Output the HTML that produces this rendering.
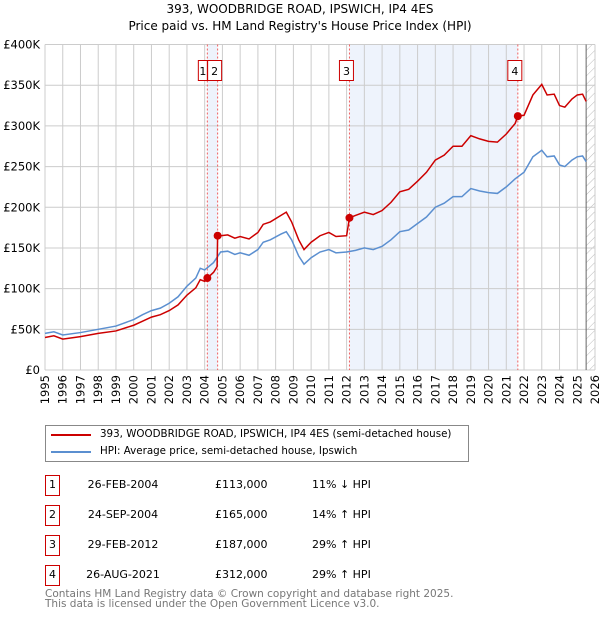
<!DOCTYPE html>
<html><head><meta charset="utf-8"><style>
body{margin:0;background:#fff;font-family:"DejaVu Sans","Liberation Sans",sans-serif;}
#wrap{position:relative;width:600px;height:620px;overflow:hidden}
.t{position:absolute;font-size:11px;color:#000;white-space:nowrap}
</style></head><body><div id="wrap">
<svg id="chart" width="600" height="415" style="position:absolute;left:0;top:0;font-family:'DejaVu Sans',sans-serif"></svg>
<div style="position:absolute;left:45px;top:425px;width:422px;height:35px;border:1px solid #888">
<div style="position:absolute;left:5px;top:8px;width:40px;height:2px;background:#cc0000"></div>
<div class="t" style="left:54px;top:2px;font-size:10.3px">393, WOODBRIDGE ROAD, IPSWICH, IP4 4ES (semi-detached house)</div>
<div style="position:absolute;left:5px;top:25px;width:40px;height:2px;background:#5b8fd0"></div>
<div class="t" style="left:54px;top:19px;font-size:10.3px">HPI: Average price, semi-detached house, Ipswich</div>
</div>
<div id="tbl"></div>
<div class="t" style="left:45px;top:589px;color:#777;font-size:10.5px;line-height:10px">Contains HM Land Registry data © Crown copyright and database right 2025.<br>This data is licensed under the Open Government Licence v3.0.</div>
</div>
<script>
const hpiYears=[1995,1995.5,1996,1997,1998,1999,2000,2000.5,2001,2001.5,2002,2002.5,2003,2003.5,2003.75,2004,2004.5,2004.9,2005.3,2005.7,2006,2006.5,2007,2007.3,2007.7,2008.3,2008.6,2008.9,2009.3,2009.6,2010,2010.5,2011,2011.4,2012,2012.5,2013,2013.5,2014,2014.5,2015,2015.5,2016,2016.5,2017,2017.5,2018,2018.5,2019,2019.5,2020,2020.5,2021,2021.5,2022,2022.5,2023,2023.3,2023.7,2024,2024.3,2024.7,2025,2025.3,2025.5];
const hpiValues=[45,47,43,46,50,54,62,68,73,76,82,90,103,113,125,123,132,145,146,142,144,141,148,157,160,167,170,160,140,130,138,145,148,144,145,147,150,148,152,160,170,172,180,188,200,205,213,213,223,220,218,217,225,235,243,262,270,262,263,252,250,258,262,263,256];
const priceYears=[1995,1995.5,1996,1997,1998,1999,2000,2000.5,2001,2001.5,2002,2002.5,2003,2003.5,2003.75,2004,2004.15,2004.5,2004.7,2004.73,2004.9,2005.3,2005.7,2006,2006.5,2007,2007.3,2007.7,2008.3,2008.6,2008.9,2009.3,2009.6,2010,2010.5,2011,2011.4,2012,2012.16,2012.5,2013,2013.5,2014,2014.5,2015,2015.5,2016,2016.5,2017,2017.5,2018,2018.5,2019,2019.5,2020,2020.5,2021,2021.5,2021.65,2022,2022.5,2023,2023.3,2023.7,2024,2024.3,2024.7,2025,2025.3,2025.5];
const priceValues=[40,42,38,41,45,48,55,60,65,68,73,80,92,101,111,109,113,120,127,165,165,166,162,164,161,169,179,182,190,194,182,160,148,157,165,169,164,165,187,190,194,191,196,206,219,222,232,243,258,264,275,275,288,284,281,280,290,303,312,313,338,351,338,339,325,323,333,338,339,330];
const saleLabels=["1","2","3","4"];
const saleYears=[2004.15,2004.73,2012.16,2021.65];
const saleValues=[113,165,187,312];
const saleDates=["26-FEB-2004","24-SEP-2004","29-FEB-2012","26-AUG-2021"];
const salePrices=["£113,000","£165,000","£187,000","£312,000"];
const saleHpi=["11% ↓ HPI","14% ↑ HPI","29% ↑ HPI","29% ↑ HPI"];
const yTicks=[0,50,100,150,200,250,300,350,400];
const yTickLabels=["£0","£50K","£100K","£150K","£200K","£250K","£300K","£350K","£400K"];
const xTicks=[1995,1996,1997,1998,1999,2000,2001,2002,2003,2004,2005,2006,2007,2008,2009,2010,2011,2012,2013,2014,2015,2016,2017,2018,2019,2020,2021,2022,2023,2024,2025,2026];

const L=45,R=595,T=44.5,B=370,NS="http://www.w3.org/2000/svg";
const x=v=>L+(v-1995)/31*(R-L), y=v=>B-v/400*(B-T);
const svg=document.getElementById('chart');
function mk(tag,attrs,parent){const e=document.createElementNS(NS,tag);for(const k in attrs)e.setAttribute(k,attrs[k]);(parent||svg).appendChild(e);return e;}
let defs=mk('defs',{});
let pat=mk('pattern',{id:'hatch',width:6,height:6,patternUnits:'userSpaceOnUse',patternTransform:'rotate(45)'},defs);
mk('line',{x1:0,y1:0,x2:0,y2:6,stroke:'#bbb','stroke-width':1},pat);
let e;
e=mk('rect',{x:x(saleYears[0]),y:T,width:x(saleYears[1])-x(saleYears[0]),height:B-T,fill:'#eef3fc'});

e=mk('rect',{x:x(saleYears[2]),y:T,width:x(saleYears[3])-x(saleYears[2]),height:B-T,fill:'#eef3fc'});

e=mk('rect',{x:x(2025.5),y:T,width:R-x(2025.5),height:B-T,fill:'url(#hatch)'});

xTicks.forEach(t=>{e=mk('line',{x1:x(t),x2:x(t),y1:T,y2:B,stroke:'#ccc'});

e=mk('text',{x:0,y:0,transform:`translate(${x(t)+4},${B+5}) rotate(-90)`,'text-anchor':'end','font-size':11.5,fill:'#000'});e.textContent=t;
});
yTicks.forEach((t,i)=>{e=mk('line',{x1:L,x2:R,y1:y(t),y2:y(t),stroke:'#ccc'});

e=mk('text',{x:40,y:y(t)+4,'text-anchor':'end','font-size':11.5,fill:'#000'});e.textContent=yTickLabels[i];
});
e=mk('line',{x1:x(2025.5),x2:x(2025.5),y1:T,y2:B,stroke:'#666'});

saleYears.forEach((s,i)=>{e=mk('line',{x1:x(s),x2:x(s),y1:T,y2:B,stroke:'#f06060','stroke-dasharray':'2,2'});

const bx=i==0?x(s)-9:x(s)-10, bw=i==0?9:14;
e=mk('rect',{x:bx,y:60.5,width:bw,height:20,fill:'#fff',stroke:'#cc0000'});

e=mk('text',{x:bx+bw/2,y:75,'text-anchor':'middle','font-size':11,fill:'#000'});e.textContent=saleLabels[i];
});
e=mk('polyline',{points:hpiYears.map((v,i)=>x(v)+','+y(hpiValues[i])).join(' '),fill:'none',stroke:'#5b8fd0','stroke-width':1.5});

e=mk('polyline',{points:priceYears.map((v,i)=>x(v)+','+y(priceValues[i])).join(' '),fill:'none',stroke:'#cc0000','stroke-width':1.5});

saleYears.forEach((s,i)=>{e=mk('circle',{cx:x(s),cy:y(saleValues[i]),r:4,fill:'#cc0000'});
});
e=mk('text',{x:300,y:13,'text-anchor':'middle','font-size':12});e.textContent='393, WOODBRIDGE ROAD, IPSWICH, IP4 4ES';

e=mk('text',{x:300,y:30,'text-anchor':'middle','font-size':12});e.textContent="Price paid vs. HM Land Registry's House Price Index (HPI)";

const tbl=document.getElementById('tbl');
saleLabels.forEach((l,i)=>{const top=475+i*30;
const row=document.createElement('div');


row.innerHTML=`<div style="position:absolute;left:45px;top:${top}px;width:13px;height:19px;border:1px solid #cc0000;font-size:11px;text-align:center;line-height:18px">${l}</div>
<div class="t" style="left:83px;top:${top+3}px;width:80px;text-align:center">${saleDates[i]}</div>
<div class="t" style="left:215px;top:${top+3}px">${salePrices[i]}</div>
<div class="t" style="left:312px;top:${top+3}px">${saleHpi[i]}</div>`;
tbl.appendChild(row);});
</script></body></html>
